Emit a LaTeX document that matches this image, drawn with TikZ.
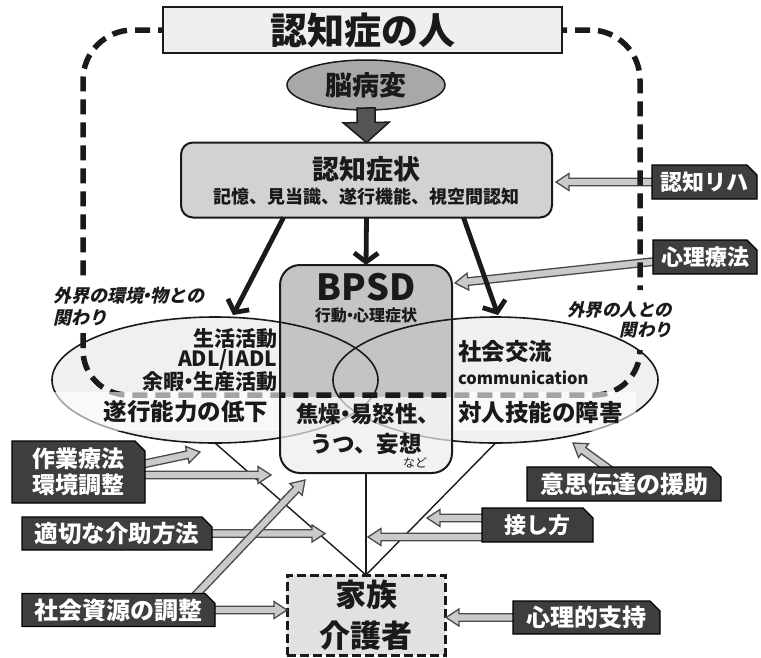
\documentclass[tikz,border=0pt]{standalone}
\usepackage{fontspec}
\setmainfont{Noto Sans CJK JP}
\newfontfamily\itjp{Noto Sans CJK JP}[FakeSlant=0.22]
\usetikzlibrary{shapes.geometric,shapes.misc,calc,arrows.meta}
\pgfdeclarelayer{fg}
\pgfsetlayers{main,fg}
\definecolor{topfill}{HTML}{EFEFEF}
\definecolor{brainfill}{HTML}{A8A8A8}
\definecolor{cogfill}{HTML}{D2D2D2}
\definecolor{bpsdtop}{HTML}{C4C4C4}
\definecolor{bpsdlow}{HTML}{EEEEEE}
\definecolor{ellfill}{HTML}{F0F0F0}
\definecolor{famfill}{HTML}{E1E1E1}
\definecolor{darkbox}{HTML}{3E3E3E}
\definecolor{harfill}{HTML}{CACACA}
\definecolor{harline}{HTML}{4A4A4A}
\definecolor{bigfill}{HTML}{555555}
\definecolor{ink}{HTML}{1A1A1A}
\newcommand{\ndot}{\kern-0.3em・\kern-0.3em}
\newcommand{\barrow}[6]{%
  \coordinate (hb) at ($(#3)!#6!(#2)$);
  \draw[#1] ($(#2)!#4!90:(#3)$) -- ($(hb)!#4!90:(#3)$) -- ($(hb)!#5!90:(#3)$) -- (#3) -- ($(hb)!#5!-90:(#3)$) -- ($(hb)!#4!-90:(#3)$) -- ($(#2)!#4!-90:(#3)$) -- cycle;}
\newcommand{\harr}[2]{\barrow{harst}{#1}{#2}{3.8pt}{8.5pt}{13pt}}
\begin{document}
\begin{tikzpicture}[x=1pt,y=-1pt,
  every node/.style={inner sep=0pt,outer sep=0pt,text=ink},
  harst/.style={fill=harfill,draw=harline,line width=1.3pt,line join=miter},
  bigst/.style={fill=bigfill,draw=ink,line width=1.5pt,line join=miter},
  dbox/.style={chamfered rectangle,chamfered rectangle corners=north east,chamfered rectangle xsep=5pt,chamfered rectangle ysep=5pt,fill=darkbox,draw=black,line width=1.2pt,text=white,align=center,font=\bfseries\fontsize{23}{26}\selectfont},
  loopst/.style={draw=ink,line width=5.5pt,dash pattern=on 15pt off 8pt},
  cogarr/.style={draw=ink,line width=4.8pt,-{Straight Barb[length=9pt,width=24pt]}},
  linkst/.style={draw=ink,line width=1.4pt},
  fs/.style={font=\bfseries\fontsize{#1}{#1}\selectfont},
  lbl/.style={font=\itjp\bfseries\fontsize{18}{22}\selectfont},
]
\useasboundingbox (0,0) rectangle (761,657);
\fill[white] (0,0) rectangle (761,657);
% ellipse fills
\node[ellipse,fill=ellfill,minimum width=326pt,minimum height=126pt] (lell) at (215,380) {};
\node[ellipse,fill=ellfill,minimum width=325pt,minimum height=126pt] (rell) at (495.5,380) {};
% BPSD upper fill
\begin{scope}
  \clip[rounded corners=20pt] (280,265) rectangle (452,473);
  \fill[bpsdtop] (280,265) rectangle (452,397);
\end{scope}
% ellipse outlines
\node[ellipse,draw=ink,line width=1.6pt,minimum width=326pt,minimum height=126pt] (lello) at (lell.center) {};
\node[ellipse,draw=ink,line width=1.6pt,minimum width=325pt,minimum height=126pt] (rello) at (rell.center) {};
% top box and dark boxes on fg layer
\begin{pgfonlayer}{fg}
\node[draw=ink,line width=2pt,fill=topfill,minimum width=399pt,minimum height=46pt,fs=37] (top) at (362.5,30) {認知症の人};
\node[dbox,minimum width=105pt,minimum height=34pt,font=\bfseries\fontsize{22}{22}\selectfont] (ninchi) at (704.5,182) {認知リハ};
\node[dbox,minimum width=104pt,minimum height=34pt,font=\bfseries\fontsize{22}{22}\selectfont] (shinri) at (705,257) {心理療法};
\node[dbox,minimum width=133pt,minimum height=62pt] (sagyo) at (78.5,472) {作業療法\\環境調整};
\node[dbox,minimum width=190pt,minimum height=33pt,font=\bfseries\fontsize{23.5}{23.5}\selectfont] (tekisetsu) at (117,533.5) {適切な介助方法};
\node[dbox,minimum width=193pt,minimum height=33pt,font=\bfseries\fontsize{24}{24}\selectfont] (shakai) at (118.5,610) {社会資源の調整};
\node[dbox,minimum width=194pt,minimum height=34pt,font=\bfseries\fontsize{24}{24}\selectfont] (ishi) at (624,484) {意思伝達の援助};
\node[dbox,minimum width=111pt,minimum height=34pt,font=\bfseries\fontsize{22}{22}\selectfont] (sesshi) at (537.5,525) {接し方};
\node[dbox,minimum width=147pt,minimum height=33pt,font=\bfseries\fontsize{24}{24}\selectfont] (shinriteki) at (586.5,617.5) {心理的支持};
\end{pgfonlayer}
% cognitive symptoms box
\node[draw=ink,line width=2pt,fill=cogfill,rounded corners=12pt,minimum width=371pt,minimum height=75pt] (cog) at (366.5,180) {};
\node[fs=27] (cogt) at (366,169) {認知症状};
\node[fs=18] (cogs) at (366,197) {記憶、見当識、遂行機能、視空間認知};
% brain
\node[ellipse,draw=ink,line width=1.5pt,fill=brainfill,minimum width=158pt,minimum height=50pt,fs=27] (brain) at (366,85) {脳病変};
\coordinate (brS) at ($(brain.south)+(0,-2)$);
\barrow{bigst}{brS}{cog.north}{9pt}{23pt}{20pt}
% hollow arrows to cog and BPSD
\coordinate (nnT) at ($(ninchi.west)+(6,0)$);
\coordinate (cogE) at (556,182);
\harr{nnT}{cogE}
\coordinate (shT) at ($(shinri.west)+(6,4)$);
\coordinate (bpsdR) at (455,283);
\harr{shT}{bpsdR}
% dashed loop
\coordinate (tW) at ($(top.west)+(10,0)$);
\coordinate (tE) at ($(top.east)+(-10,0)$);
\coordinate (lg1) at (83,280);
\coordinate (lg2) at (83,333);
\coordinate (lc) at (83,395);
\coordinate (rg1) at (640,290);
\coordinate (rg2) at (640,350);
\coordinate (rc) at (640,395);
\draw[loopst,rounded corners=50pt] (tW) -| (lg1);
\draw[loopst,rounded corners=50pt] (tE) -| (rg1);
\draw[loopst,rounded corners=45pt] (lg2) -- (lc) -- (rc) -- (rg2);
% translucent band
\fill[white,opacity=0.6] (52,392) rectangle (280,431);
\fill[white,opacity=0.6] (452,392) rectangle (636,431);
% BPSD lower part
\begin{scope}
  \clip[rounded corners=20pt] (280,265) rectangle (452,473);
  \fill[bpsdlow,opacity=0.72] (280,398) rectangle (452,473);
\end{scope}
\node[draw=ink,line width=2pt,rounded corners=20pt,minimum width=172pt,minimum height=208pt] (bpsd) at (366,369) {};
% arrows from cognitive symptoms
\coordinate (cogL) at ($(cog.south)+(-83,0)$);
\coordinate (cogR) at ($(cog.south)+(97,0)$);
\coordinate (lellT) at (233,315);
\coordinate (rellT) at (498,315);
\draw[cogarr] (cogL) -- (lellT);
\draw[cogarr] (cog.south) -- (bpsd.north);
\draw[cogarr] (cogR) -- (rellT);
% family caregiver
\node[draw=ink,line width=3pt,dash pattern=on 9pt off 4pt,fill=famfill,minimum width=158pt,minimum height=80pt,align=center,font=\bfseries\fontsize{31}{41}\selectfont] (fam) at (366,615) {家族\\介護者};
\draw[linkst] (lell.south) -- (fam.north);
\draw[linkst] (bpsd.south) -- (fam.north);
\draw[linkst] (rell.south) -- (fam.north);
% hollow arrows lower
\coordinate (sg1) at ($(sagyo.east)+(-6,-7)$);
\coordinate (sg1t) at (200,452);
\coordinate (sg2) at ($(sagyo.east)+(-6,3)$);
\coordinate (sg2t) at (271,475);
\coordinate (tks) at ($(tekisetsu.east)+(-6,0)$);
\coordinate (tkt) at (325,533.5);
\coordinate (sks) at ($(shakai.east)+(-6,0)$);
\coordinate (skt) at ($(fam.west)+(0,-5)$);
\coordinate (sk2) at ($(shakai.north)+(73,6)$);
\coordinate (sk2t) at (305,480);
\coordinate (is1) at ($(ishi.north)+(-11,5)$);
\coordinate (is1t) at (573,443);
\coordinate (ss1) at ($(sesshi.west)+(6,-7)$);
\coordinate (ss1t) at (427,518);
\coordinate (ss2) at ($(sesshi.west)+(6,12)$);
\coordinate (ss2t) at (368,537);
\coordinate (srs) at ($(shinriteki.west)+(6,0)$);
\coordinate (srt) at ($(fam.east)+(1,2.5)$);
\harr{sg1}{sg1t}
\harr{sg2}{sg2t}
\harr{tks}{tkt}
\harr{sks}{skt}
\harr{sk2}{sk2t}
\harr{is1}{is1t}
\harr{ss1}{ss1t}
\harr{ss2}{ss2t}
\harr{srs}{srt}
% texts
\node[fs=36] (bpsdt) at (366,287) {BPSD};
\node[fs=16] (bpsds) at (366,315) {行動\ndot 心理症状};
\node[fs=22.5] (bpsdl1) at (368,414) {焦燥\ndot 易怒性、};
\node[fs=22.5] (bpsdl2) at (366,444) {うつ、妄想};
\node[font=\fontsize{12}{12}\selectfont] (nado) at (415,463) {など};
\node[align=right,anchor=east,font=\bfseries\fontsize{21}{20.5}\selectfont] (leftt) at (277,360) {生活活動\\ADL/IADL\\余暇\ndot 生産活動};
\node[fs=23.5,anchor=east] (suikou) at (268,412) {遂行能力の低下};
\node[fs=23.5,anchor=west] (shakaik) at (458,352) {社会交流};
\node[fs=16.5,anchor=west] (comm) at (458,378) {communication};
\node[fs=23.5,anchor=west] (taijin) at (458,412) {対人技能の障害};
\node[lbl,align=left,anchor=west] (gaikai1) at (53,307) {外界の環境\ndot 物との\\関わり};
\node[lbl,align=right,anchor=east,font=\itjp\bfseries\fontsize{17.5}{20}\selectfont] (gaikai2) at (672,320) {外界の人との\\関わり};
\end{tikzpicture}
\end{document}
